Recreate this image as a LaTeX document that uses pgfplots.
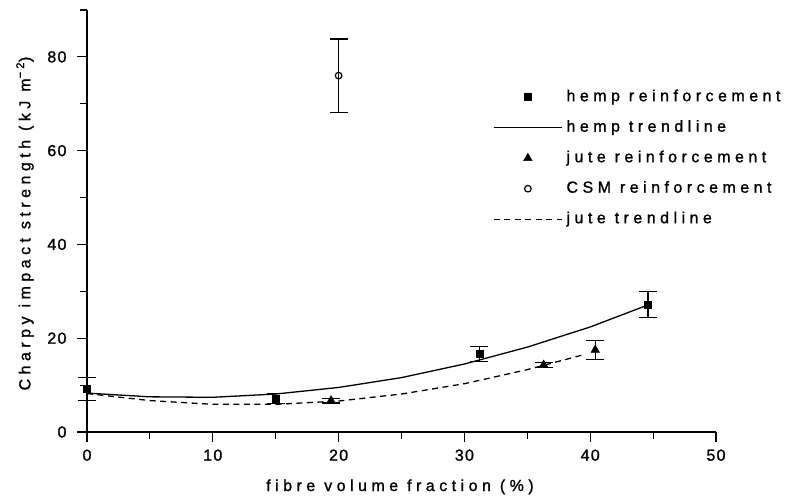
\documentclass[border=0pt]{standalone}
\usepackage{fontspec}
\setmainfont{Liberation Sans}
\newfontfamily\lsfont[LetterSpace=28,FakeBold=1.2]{Liberation Sans}
\newfontfamily\tkfont[LetterSpace=8,FakeBold=1.2]{Liberation Sans}
\usepackage{pgfplots}
\pgfplotsset{compat=1.18}
\pgfplotsset{
  legimg/.style={legend image code/.code={%
    \draw[mark repeat=2,mark phase=2,##1] plot coordinates {(0pt,0pt) (34pt,0pt) (68pt,0pt)};}},
  ebar/.style={error bars/.cd, y dir=both, y explicit,
    error bar style={line width=1.2pt, solid},
    error mark options={rotate=90, mark size=9pt, line width=1.2pt, solid}},
}
\begin{document}
\begin{tikzpicture}
\begin{axis}[
  at={(0,0)}, anchor=south west, scale only axis,
  width=629pt, height=422pt,
  xmin=0, xmax=50, ymin=0, ymax=90,
  axis x line=bottom, axis y line=left,
  axis line style={-, line width=1.3pt},
  xtick={0,10,...,50}, ytick={0,20,...,80},
  minor xtick={5,15,...,45}, minor ytick={10,30,...,90},
  tick align=outside, major tick length=10pt, minor tick length=7pt,
  tick style={line width=1.2pt, black},
  ticklabel style={font=\fontsize{16}{16}\selectfont\tkfont},
  yticklabel style={xshift=-7pt},
  xticklabel style={yshift=-4pt},
  /pgf/number format/assume math mode=true,
  xlabel={fibre volume fraction (\%)},
  ylabel={Charpy impact strength (kJ m\textsuperscript{−2})},
  xlabel style={at={(axis description cs:0.4976,-0.130)}, anchor=center, font=\fontsize{16}{16}\selectfont\lsfont},
  ylabel style={at={(axis description cs:-0.0986,0.494)}, anchor=center, font=\fontsize{16}{16}\selectfont\lsfont},
  legend style={at={(0.6455,0.8128)}, anchor=north west, draw=none, fill=none,
    inner sep=0pt, row sep=14.5pt, column sep=4pt,
    font=\fontsize{16}{16}\selectfont\lsfont,
    nodes={inner sep=0pt, text height=12pt, text depth=4pt}},
  legend cell align=left,
  clip=false,
]
% hemp reinforcement
\addplot[only marks, mark=square*, mark size=3.5pt, black, legimg, ebar] coordinates {
  (0,9.2) +- (0,2.5)
  (15,7.1) +- (0,1.1)
  (31.2,16.6) +- (0,1.6)
  (44.6,27.2) +- (0,2.7)
};
\addlegendentry{hemp reinforcement}
% hemp trendline
\addplot[black, line width=1.3pt, no marks, legimg] coordinates {
  (0,8.3) (5,7.5) (10,7.4) (15,8.1) (20,9.5) (25,11.6) (30,14.5) (35,18.1) (40,22.4) (44.6,27.1)
};
\addlegendentry{hemp trendline}
% jute reinforcement
\addplot[only marks, mark=triangle*, mark size=5pt, black, legimg, ebar] coordinates {
  (19.4,6.7) +- (0,0.5)
  (36.3,14.3) +- (0,0.6)
  (40.4,17.5) +- (0,2.0)
};
\addlegendentry{jute reinforcement}
% CSM reinforcement
\addplot[only marks, mark=o, mark size=3.3pt, black, mark options={line width=1.2pt}, legimg, ebar] coordinates {
  (20,76) +- (0,7.8)
};
\addlegendentry{CSM reinforcement}
% jute trendline
\addplot[black, line width=1.3pt, no marks, dash pattern=on 6pt off 4.5pt, legimg] coordinates {
  (0,8.2) (5,6.7) (10,5.9) (15,5.9) (20,6.6) (25,8.1) (30,10.3) (35,13.3) (39.5,16.5)
};
\addlegendentry{jute trendline}
\end{axis}
\pgfresetboundingbox
\path (-87pt,-65pt) rectangle (703pt,432pt);
\end{tikzpicture}
\end{document}
